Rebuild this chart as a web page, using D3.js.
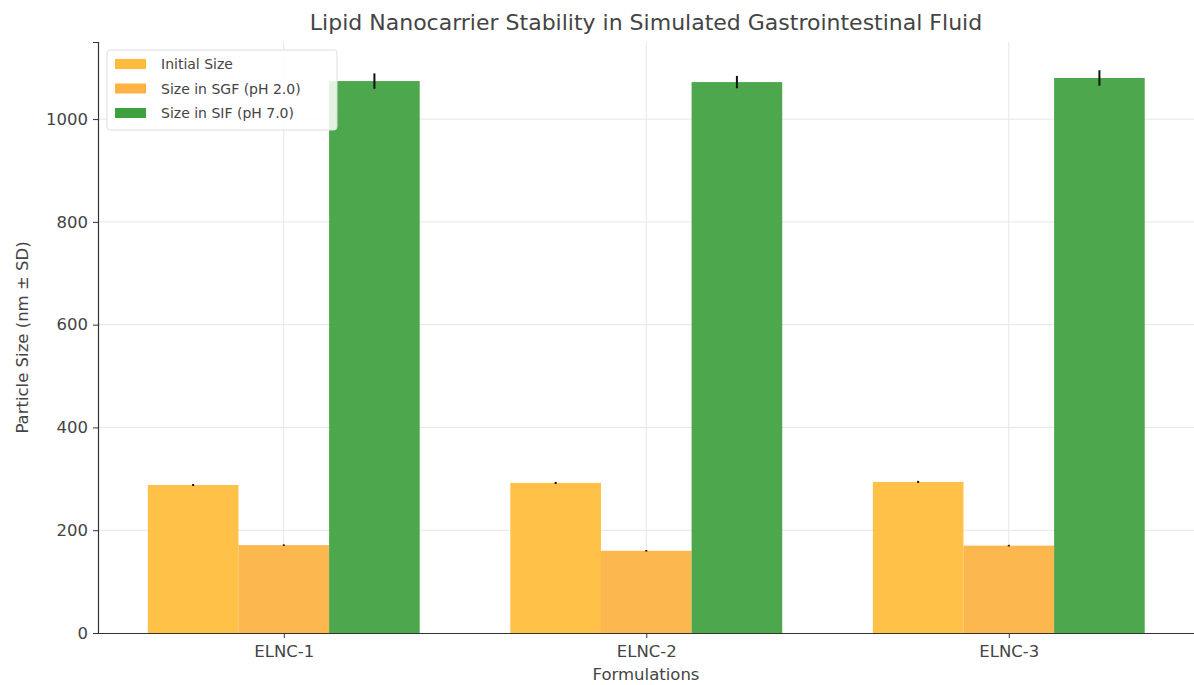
<!DOCTYPE html>
<html>
<head>
<meta charset="utf-8">
<script src="https://cdn.jsdelivr.net/npm/d3@7"></script>
<style>
  body { margin: 0; background: #fff; }
  text { font-family: "DejaVu Sans", sans-serif; }
</style>
</head>
<body>
<div id="chart"></div>
<script>
// Chart data

var formulations = ["ELNC-1", "ELNC-2", "ELNC-3"];
var seriesNames = ["Initial Size", "Size in SGF (pH 2.0)", "Size in SIF (pH 7.0)"];
var initialSize = [288, 292, 294];
var initialSD = [2, 2, 2];
var sgfSize = [171, 160, 170];
var sgfSD = [1.5, 1.5, 1.5];
var sifSize = [1074, 1072, 1080];
var sifSD = [15, 12, 15];
var yTicks = [0, 200, 400, 600, 800, 1000];

var seriesValues = [initialSize, sgfSize, sifSize];
var seriesErrors = [initialSD, sgfSD, sifSD];
var seriesColors = ["#ffbc3a", "#fdb242", "#3fa03f"];

var width = 1194, height = 685,
    margin = {top: 42, right: 0, bottom: 52, left: 98};

var svg = d3.select("#chart").append("svg")
    .attr("width", width)
    .attr("height", height);

// Scales: category index on a linear axis, like the original
var x = d3.scaleLinear()
    .domain([-0.5125, 2.5125])
    .range([margin.left, margin.left + (2.5125 + 0.5125) * 362.5]);

var y = d3.scaleLinear()
    .domain([0, 1150])
    .range([height - margin.bottom, margin.top]);

var barW = 0.25;

// Grid lines
var grid = svg.append("g");
grid.selectAll(".hgrid").data(yTicks.slice(1)).enter()
    .append("line")
    .attr("x1", margin.left).attr("x2", width)
    .attr("y1", function(d) { return y(d); })
    .attr("y2", function(d) { return y(d); })
    .attr("stroke", "#e6e6e6").attr("stroke-width", 1);
grid.selectAll(".vgrid").data(formulations).enter()
    .append("line")
    .attr("x1", function(d, i) { return x(i); })
    .attr("x2", function(d, i) { return x(i); })
    .attr("y1", margin.top).attr("y2", y(0))
    .attr("stroke", "#e6e6e6").attr("stroke-width", 1);

// Bars
seriesValues.forEach(function(values, s) {
  var offset = (s - 1) * barW;
  svg.append("g").selectAll("rect").data(values).enter()
      .append("rect")
      .attr("x", function(d, i) { return x(i + offset - barW / 2); })
      .attr("width", x(barW) - x(0))
      .attr("y", function(d) { return y(d); })
      .attr("height", function(d) { return y(0) - y(d); })
      .attr("fill", seriesColors[s])
      .attr("fill-opacity", 0.93);

  svg.append("g").selectAll("line").data(values).enter()
      .append("line")
      .attr("x1", function(d, i) { return x(i + offset); })
      .attr("x2", function(d, i) { return x(i + offset); })
      .attr("y1", function(d, i) { return y(d - seriesErrors[s][i]); })
      .attr("y2", function(d, i) { return y(d + seriesErrors[s][i]); })
      .attr("stroke", "#111")
      .attr("stroke-width", 2);
});

// Axes
var yAxis = svg.append("g")
    .attr("transform", "translate(" + margin.left + ",0)")
    .call(d3.axisLeft(y).tickValues(yTicks).tickFormat(d3.format("d"))
        .tickSize(5).tickPadding(5));
yAxis.select(".domain").attr("stroke", "#333").attr("stroke-width", 1.2);
yAxis.selectAll(".tick line").attr("stroke", "#333");
yAxis.selectAll("text").attr("font-size", 16.5).attr("fill", "#444");

var xAxis = svg.append("g")
    .attr("transform", "translate(0," + y(0) + ")")
    .call(d3.axisBottom(x).tickValues([0, 1, 2])
        .tickFormat(function(d) { return formulations[d]; })
        .tickSize(5).tickPadding(7).tickSizeOuter(0));
xAxis.select(".domain").attr("stroke", "#333").attr("stroke-width", 1.2);
xAxis.selectAll(".tick line").attr("stroke", "#333");
xAxis.selectAll("text").attr("font-size", 16.5).attr("fill", "#444");

// Labels
svg.append("text")
    .attr("x", 646).attr("y", 30)
    .attr("text-anchor", "middle")
    .attr("font-size", 22).attr("fill", "#444")
    .text("Lipid Nanocarrier Stability in Simulated Gastrointestinal Fluid");

svg.append("text")
    .attr("x", 646).attr("y", 680)
    .attr("text-anchor", "middle")
    .attr("font-size", 16.5).attr("fill", "#444")
    .text("Formulations");

svg.append("text")
    .attr("transform", "translate(28," + y(575) + ") rotate(-90)")
    .attr("text-anchor", "middle")
    .attr("font-size", 16.5).attr("fill", "#444")
    .text("Particle Size (nm \u00b1 SD)");

// Legend
var legend = svg.append("g").attr("transform", "translate(107,50)");
legend.append("rect")
    .attr("width", 230).attr("height", 80).attr("rx", 3)
    .attr("fill", "#fff").attr("fill-opacity", 0.85)
    .attr("stroke", "#dddddd");
seriesNames.forEach(function(name, i) {
  legend.append("rect")
      .attr("x", 8).attr("y", 9 + i * 24.5)
      .attr("width", 31).attr("height", 10)
      .attr("fill", seriesColors[i]);
  legend.append("text")
      .attr("x", 54).attr("y", 19 + i * 24.5)
      .attr("font-size", 14).attr("fill", "#444")
      .text(name);
});
</script>
</body>
</html>
